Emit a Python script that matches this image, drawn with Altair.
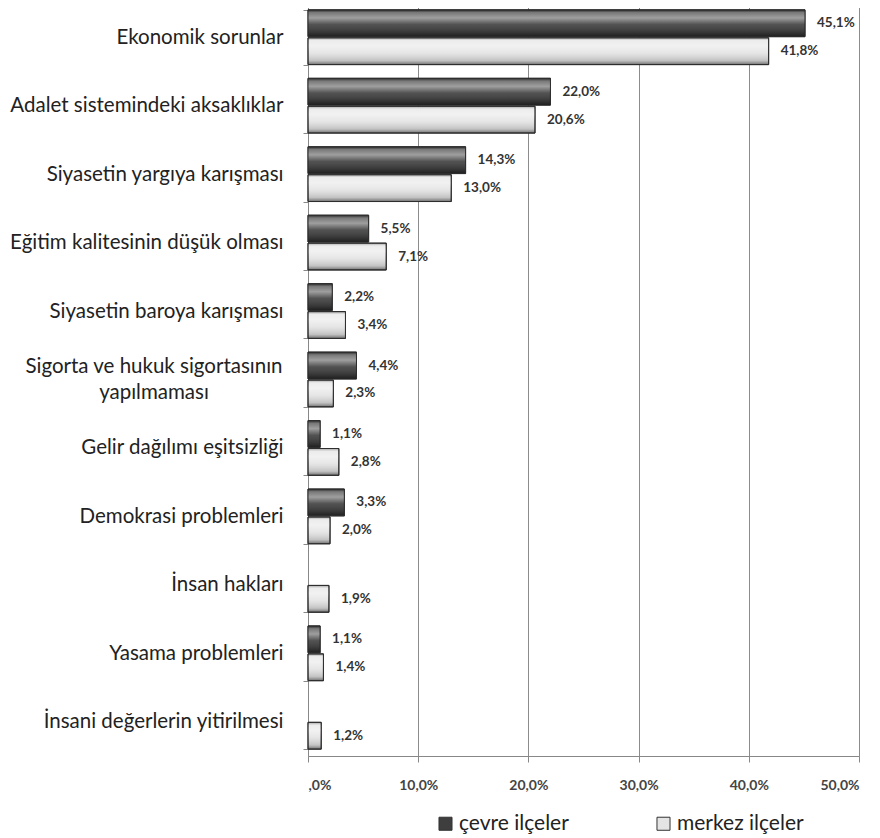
import altair as alt
import pandas as pd

categories = [
    "Ekonomik sorunlar",
    "Adalet sistemindeki aksaklıklar",
    "Siyasetin yargıya karışması",
    "Eğitim kalitesinin düşük olması",
    "Siyasetin baroya karışması",
    "Sigorta ve hukuk sigortasının yapılmaması",
    "Gelir dağılımı eşitsizliği",
    "Demokrasi problemleri",
    "İnsan hakları",
    "Yasama problemleri",
    "İnsani değerlerin yitirilmesi",
]
wrapped_category = "Sigorta ve hukuk sigortasının yapılmaması"
wrapped_lines = ["Sigorta ve hukuk sigortasının", "yapılmaması"]
series_names = ["çevre ilçeler", "merkez ilçeler"]
cevre = [45.1, 22.0, 14.3, 5.5, 2.2, 4.4, 1.1, 3.3, None, 1.1, None]
merkez = [41.8, 20.6, 13.0, 7.1, 3.4, 2.3, 2.8, 2.0, 1.9, 1.4, 1.2]
x_ticks = [0, 10, 20, 30, 40, 50]

rows = []
for cat, a, b in zip(categories, cevre, merkez):
    if a is not None:
        rows.append({"category": cat, "series": series_names[0], "value": a})
    if b is not None:
        rows.append({"category": cat, "series": series_names[1], "value": b})
df = pd.DataFrame(rows)
wrap_df = pd.DataFrame({"category": [wrapped_category], "txt": ["\n".join(wrapped_lines)]})

FONT = "Lato"
CAT_SIZE = 20.5

y_axis = alt.Axis(
    title=None,
    labelExpr="datum.label == '" + wrapped_category + "' ? '' : datum.label",
    labelFont=FONT,
    labelFontSize=CAT_SIZE,
    labelColor="#222222",
    labelPadding=20,
    labelLimit=400,
    tickBand="extent",
    tickSize=5,
    tickColor="#888888",
    domainColor="#888888",
    minExtent=300,
    maxExtent=300,
)
y_enc = alt.Y(
    "category:N",
    sort=categories,
    scale=alt.Scale(paddingInner=0.2, paddingOuter=0.1),
    axis=y_axis,
)
yoff_enc = alt.YOffset(
    "series:N", sort=series_names, scale=alt.Scale(paddingInner=0.04)
)
x_enc = alt.X(
    "value:Q",
    scale=alt.Scale(domain=[0, 50], nice=False),
    axis=alt.Axis(
        title=None,
        values=x_ticks,
        labelExpr="datum.value == 0 ? ',0%' : replace(format(datum.value, '.1f'), '.', ',') + '%'",
        labelFont=FONT,
        labelFontSize=14,
        labelFontWeight="bold",
        labelColor="#444444",
        labelPadding=16,
        tickSize=6,
        tickColor="#888888",
        domainColor="#888888",
        grid=True,
        gridColor="#8c8c8c",
        gridWidth=1,
    ),
)

base = alt.Chart(df).encode(y=y_enc, yOffset=yoff_enc, x=x_enc)

bars = base.mark_bar(stroke="#2e2e2e", strokeWidth=1).encode(
    color=alt.Color(
        "series:N",
        sort=series_names,
        scale=alt.Scale(domain=series_names, range=["#3e3e3e", "#e4e4e4"]),
        legend=alt.Legend(
            title=None,
            orient="none",
            legendX=127,
            legendY=810,
            direction="horizontal",
            symbolType="square",
            symbolSize=170,
            symbolStrokeColor="#333333",
            symbolStrokeWidth=1,
            labelFont=FONT,
            labelFontSize=21,
            labelColor="#222222",
            labelOffset=3,
            columnPadding=84,
        ),
    )
)

shine = base.mark_bar(
    fill={
        "gradient": "linear",
        "x1": 0, "y1": 0, "x2": 0, "y2": 1,
        "stops": [
            {"offset": 0.0, "color": "rgba(0,0,0,0.25)"},
            {"offset": 0.1, "color": "rgba(255,255,255,0.3)"},
            {"offset": 0.3, "color": "rgba(255,255,255,0.5)"},
            {"offset": 0.55, "color": "rgba(255,255,255,0.1)"},
            {"offset": 0.85, "color": "rgba(0,0,0,0.15)"},
            {"offset": 1.0, "color": "rgba(0,0,0,0.5)"},
        ],
    },
    stroke="#2e2e2e",
    strokeWidth=1,
)

labels = base.transform_calculate(
    txt="replace(format(datum.value, '.1f'), '.', ',') + '%'"
).mark_text(
    align="left", baseline="middle", dx=12, font=FONT, fontSize=13.5,
    fontWeight="bold", color="#333333"
).encode(text="txt:N")

wrapped = alt.Chart(wrap_df).mark_text(
    align="center", baseline="middle", lineBreak="\n", lineHeight=26, dy=-13,
    font=FONT, fontSize=CAT_SIZE, color="#222222"
).encode(
    y=alt.Y("category:N", sort=categories),
    x=alt.value(-154),
    text="txt:N",
)

chart = (
    alt.layer(bars, shine, labels, wrapped)
    .properties(
        width=551,
        height=753,
        padding={"left": 0, "top": -15, "right": 0, "bottom": 2},
    )
    .configure_view(stroke="#cfcfcf")
)

chart.save("out.html", embed_options={"renderer": "svg", "actions": False})
